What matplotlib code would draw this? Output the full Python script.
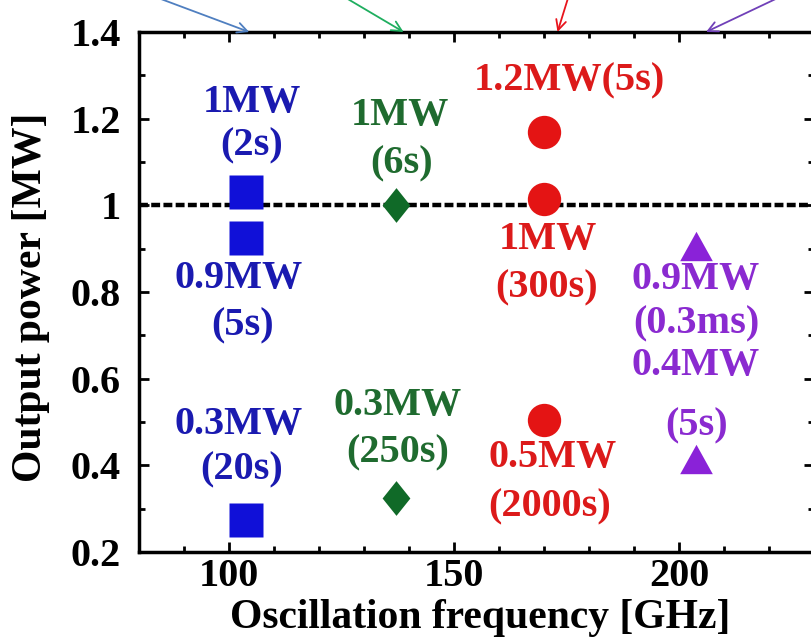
import matplotlib
matplotlib.use("Agg")
import matplotlib.pyplot as plt
from matplotlib.ticker import MultipleLocator

plt.rcParams['font.family'] = ['Liberation Serif', 'DejaVu Serif']
plt.rcParams['font.weight'] = 'bold'
plt.rcParams['axes.labelweight'] = 'bold'

# gyrotron data points (frequency GHz, power MW)
blue_freq = [103.7, 103.7, 103.7]
blue_power = [1.03, 0.925, 0.275]
green_freq = [137.0, 137.0]
green_power = [1.0, 0.325]
red_freq = [170.0, 170.0, 170.0]
red_power = [1.17, 1.015, 0.505]
purple_freq = [203.7, 203.7]
purple_power = [0.907, 0.415]

# text labels: (text, x, y) in data coords
blue_labels = [("1MW", 105.1, 1.238), ("(2s)", 105.1, 1.137),
               ("0.9MW", 102.2, 0.832), ("(5s)", 103.1, 0.722),
               ("0.3MW", 102.2, 0.495), ("(20s)", 102.9, 0.389)]
green_labels = [("1MW", 137.9, 1.208), ("(6s)", 138.4, 1.095),
                ("0.3MW", 137.5, 0.537), ("(250s)", 137.5, 0.428)]
red_labels = [("1.2MW(5s)", 175.7, 1.287), ("1MW", 170.8, 0.92),
              ("(300s)", 170.5, 0.809), ("0.5MW", 171.9, 0.417),
              ("(2000s)", 171.2, 0.304)]
purple_labels = [("0.9MW", 203.8, 0.830), ("(0.3ms)", 203.8, 0.726),
                 ("0.4MW", 203.8, 0.6315), ("(5s)", 203.8, 0.49)]

# arrows coming from above the plot: (tip x, start x, start y)
arrows = [(104.5, 79.5, 1.497), (138.8, 123.0, 1.497),
          (173.0, 175.9, 1.497), (206.0, 225.7, 1.497)]
arrow_colors = ['#4f7fc0', '#1fae5f', '#e8141c', '#7040b8']

ref_power = 1.0
xlim = (80, 230)
ylim = (0.2, 1.4)
xticks = [100, 150, 200]
yticks = [0.2, 0.4, 0.6, 0.8, 1.0, 1.2, 1.4]
ytick_labels = ['0.2', '0.4', '0.6', '0.8', '1', '1.2', '1.4']

fig = plt.figure(figsize=(8.11, 6.44), dpi=100)
ax = fig.add_axes([139 / 811, 92 / 644, 675 / 811, 520 / 644])

ax.axhline(ref_power, color='black', lw=3.2, dashes=(2.0, 0.75), zorder=1)

diamond = [(0, 1), (0.8, 0), (0, -1), (-0.8, 0), (0, 1)]
triangle = [(0, 0.9), (1, -0.9), (-1, -0.9), (0, 0.9)]

ax.plot(blue_freq, blue_power, 's', color='#1010d8', ms=24, mec='none', zorder=3)
ax.plot(green_freq, green_power, marker=diamond, ls='none',
        color='#106a28', ms=25, mec='none', zorder=3)
ax.plot(red_freq, red_power, 'o', color='#e41414', ms=24, mec='none', zorder=3)
ax.plot(purple_freq, purple_power, marker=triangle, ls='none',
        color='#8a22d8', ms=23.5, mec='none', zorder=3)

groups = [(blue_labels, '#1a1ab0'), (green_labels, '#1f6b2f'),
          (red_labels, '#dc1a1a'), (purple_labels, '#8a2ad0')]
for labels, col in groups:
    for txt, x, y in labels:
        ax.text(x, y, txt, color=col, fontsize=29, ha='center', va='center', zorder=4)

for (tip, sx, sy), col in zip(arrows, arrow_colors):
    ax.annotate('', xy=(tip, ylim[1]), xytext=(sx, sy), annotation_clip=False,
                arrowprops=dict(arrowstyle='->', color=col, lw=1.3,
                                mutation_scale=18, shrinkA=0, shrinkB=0))

ax.set_xlim(*xlim)
ax.set_ylim(*ylim)
ax.set_xticks(xticks)
ax.set_yticks(yticks)
ax.set_yticklabels(ytick_labels)
ax.xaxis.set_minor_locator(MultipleLocator(10))
ax.yaxis.set_minor_locator(MultipleLocator(0.1))
ax.tick_params(which='both', direction='in', top=True, right=True, width=2)
ax.tick_params(which='major', length=7, labelsize=29)
ax.tick_params(axis='y', which='major', pad=13)
ax.tick_params(axis='x', which='major', pad=4)
ax.tick_params(which='minor', length=4)
for sp in ax.spines.values():
    sp.set_linewidth(2.5)

ax.set_xlabel('Oscillation frequency [GHz]', fontsize=30, fontweight='bold')
ax.set_ylabel('Output power [MW]', fontsize=30, fontweight='bold')
ax.xaxis.set_label_coords(0.505, -0.09)
ax.yaxis.set_label_coords(-0.132, 0.49)

fig.savefig('out.png', dpi=100)
